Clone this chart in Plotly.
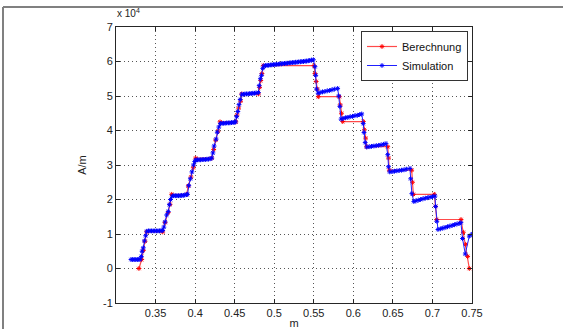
import plotly.graph_objects as go

# Berechnung (red), values in units of 1e4 A/m
calc_x = [0.329, 0.3325, 0.3345, 0.3367, 0.3388, 0.359, 0.362, 0.366, 0.3683, 0.3704, 0.3893,
          0.3914, 0.3948, 0.3977, 0.4007, 0.421, 0.4235, 0.426, 0.429, 0.4315, 0.4515,
          0.453, 0.455, 0.4575, 0.459, 0.480, 0.4815, 0.483, 0.4845, 0.4862, 0.5503,
          0.5515, 0.553, 0.5545, 0.5557, 0.5823, 0.5835, 0.585, 0.5866, 0.6126, 0.614, 0.6155, 0.6169,
          0.6435, 0.6445, 0.6455, 0.6738, 0.6748, 0.6758, 0.7024, 0.704, 0.7054, 0.7361,
          0.739, 0.742, 0.7445, 0.7466]
calc_y = [0.0, 0.26, 0.52, 0.79, 1.06, 1.06, 1.33, 1.62, 1.86, 2.15, 2.15,
          2.39, 2.65, 2.92, 3.2, 3.2, 3.45, 3.72, 3.98, 4.25, 4.25,
          4.45, 4.65, 4.85, 5.06, 5.06, 5.25, 5.45, 5.65, 5.88, 5.88,
          5.65, 5.42, 5.2, 4.98, 4.98, 4.74, 4.5, 4.26, 4.26, 4.02, 3.78, 3.53,
          3.53, 3.2, 2.85, 2.85, 2.5, 2.15, 2.15, 1.8, 1.42, 1.42,
          1.05, 0.7, 0.35, 0.0]

# Simulation (blue)
sim_x = [0.319, 0.321, 0.323, 0.325, 0.327, 0.329, 0.3305, 0.332, 0.333, 0.3345, 0.336, 0.3375, 0.339,
         0.341, 0.343, 0.345, 0.347, 0.349, 0.351, 0.353, 0.355, 0.357, 0.359,
         0.3605, 0.362, 0.364, 0.366, 0.3675, 0.369, 0.371,
         0.373, 0.375, 0.377, 0.379, 0.381, 0.383, 0.385, 0.387, 0.389, 0.3905,
         0.392, 0.394, 0.396, 0.398, 0.3995, 0.401,
         0.403, 0.405, 0.407, 0.409, 0.411, 0.413, 0.415, 0.417, 0.419, 0.421,
         0.4225, 0.424, 0.4265, 0.428, 0.430, 0.432,
         0.434, 0.436, 0.438, 0.440, 0.442, 0.444, 0.446, 0.448, 0.450, 0.451,
         0.4525, 0.454, 0.4555, 0.457, 0.459,
         0.461, 0.463, 0.465, 0.467, 0.469, 0.471, 0.473, 0.475, 0.477, 0.480,
         0.481, 0.4825, 0.484, 0.4855, 0.487,
         0.489, 0.491, 0.493, 0.495, 0.497, 0.499, 0.501, 0.503, 0.505, 0.507, 0.509,
         0.511, 0.513, 0.515, 0.517, 0.519, 0.521, 0.523, 0.525, 0.527, 0.529, 0.531,
         0.533, 0.535, 0.537, 0.539, 0.541, 0.543, 0.545, 0.547, 0.5495,
         0.5515, 0.5525, 0.5535, 0.5555,
         0.558, 0.561, 0.564, 0.567, 0.570, 0.573, 0.576, 0.5802,
         0.5815, 0.583, 0.5845,
         0.587, 0.590, 0.593, 0.596, 0.599, 0.602, 0.605, 0.608, 0.6106,
         0.6125, 0.6135, 0.615, 0.617,
         0.620, 0.623, 0.626, 0.629, 0.632, 0.635, 0.638, 0.6413,
         0.6435, 0.6445, 0.646,
         0.649, 0.652, 0.655, 0.658, 0.661, 0.664, 0.667, 0.6716,
         0.6725, 0.674, 0.6765,
         0.679, 0.682, 0.685, 0.688, 0.691, 0.694, 0.697, 0.700, 0.7032,
         0.704, 0.7055, 0.707,
         0.710, 0.713, 0.716, 0.719, 0.722, 0.725, 0.728, 0.731, 0.734, 0.736,
         0.738, 0.7415, 0.7466, 0.7497]
sim_y = [0.26, 0.26, 0.26, 0.26, 0.26, 0.26, 0.27, 0.35, 0.5, 0.6, 0.8, 0.95, 1.08,
         1.09, 1.09, 1.09, 1.09, 1.09, 1.09, 1.09, 1.09, 1.1, 1.1,
         1.2, 1.35, 1.55, 1.65, 1.85, 2.0, 2.1,
         2.11, 2.11, 2.11, 2.11, 2.11, 2.12, 2.12, 2.13, 2.14, 2.15,
         2.4, 2.6, 2.8, 3.0, 3.1, 3.15,
         3.15, 3.15, 3.15, 3.16, 3.16, 3.16, 3.17, 3.17, 3.18, 3.2,
         3.35, 3.55, 3.75, 3.95, 4.1, 4.2,
         4.21, 4.21, 4.21, 4.22, 4.22, 4.22, 4.23, 4.23, 4.24, 4.25,
         4.4, 4.55, 4.75, 4.9, 5.05,
         5.05, 5.06, 5.06, 5.06, 5.07, 5.07, 5.08, 5.08, 5.09, 5.1,
         5.3, 5.5, 5.6, 5.8, 5.87,
         5.88, 5.89, 5.89, 5.9, 5.9, 5.91, 5.91, 5.92, 5.92, 5.93, 5.93,
         5.94, 5.94, 5.95, 5.95, 5.96, 5.96, 5.97, 5.97, 5.98, 5.98, 5.99,
         5.99, 6.0, 6.0, 6.01, 6.01, 6.02, 6.03, 6.04, 6.05,
         5.85, 5.6, 5.2, 5.08,
         5.1, 5.12, 5.13, 5.15, 5.16, 5.18, 5.2, 5.22,
         5.0, 4.7, 4.33,
         4.35, 4.37, 4.38, 4.4, 4.41, 4.43, 4.44, 4.46, 4.48,
         4.2, 3.94, 3.65, 3.52,
         3.53, 3.54, 3.55, 3.56, 3.57, 3.58, 3.6, 3.62,
         3.3, 2.95, 2.8,
         2.81, 2.82, 2.83, 2.84, 2.85, 2.86, 2.88, 2.9,
         2.6, 2.17, 1.94,
         1.96, 1.98, 2.0, 2.02, 2.04, 2.05, 2.07, 2.08, 2.1,
         1.8, 1.37, 1.13,
         1.15, 1.17, 1.19, 1.21, 1.23, 1.25, 1.27, 1.29, 1.31, 1.33,
         0.87, 0.42, 0.94, 0.99]

x_ticks = [0.35, 0.4, 0.45, 0.5, 0.55, 0.6, 0.65, 0.7, 0.75]
x_tick_labels = ["0.35", "0.4", "0.45", "0.5", "0.55", "0.6", "0.65", "0.7", "0.75"]
y_ticks = [-1, 0, 1, 2, 3, 4, 5, 6, 7]
y_tick_labels = ["-1", "0", "1", "2", "3", "4", "5", "6", "7"]

W, H = 563, 329
L, R, T, B = 116, 91, 27, 26
pw, ph = W - L - R, H - T - B

def px(xp):
    return (xp - L) / pw

def py(yp):
    return (H - B - yp) / ph

fig = go.Figure()
fig.add_trace(go.Scatter(
    x=calc_x, y=calc_y, name="Berechnung", mode="lines+markers",
    line=dict(color="#ff4a4a", width=1.2),
    marker=dict(symbol="asterisk-open", size=4, color="#ff0000",
                line=dict(color="#ff0000", width=1)),
))
fig.add_trace(go.Scatter(
    x=sim_x, y=sim_y, name="Simulation", mode="lines+markers",
    line=dict(color="#2020ff", width=1),
    marker=dict(symbol="asterisk-open", size=4, color="#0000ff",
                line=dict(color="#0000ff", width=1)),
))

font = dict(family="Liberation Sans, Arial, sans-serif", size=11, color="#222222")
axis_common = dict(
    showline=True, linecolor="#262626", linewidth=1, mirror="ticks",
    ticks="inside", ticklen=4, tickcolor="#262626", tickwidth=1,
    showgrid=True, gridcolor="#555555", griddash="1px,3px", gridwidth=1,
    zeroline=False, tickfont=font, automargin=False,
)
fig.update_xaxes(range=[0.3, 0.75], tickvals=x_ticks, ticktext=x_tick_labels,
                 title=dict(text="m", font=font, standoff=4), **axis_common)
fig.update_yaxes(range=[-1, 7], tickvals=y_ticks, ticktext=y_tick_labels,
                 title=dict(text="A/m", font=font, standoff=14), **axis_common)

fig.update_layout(
    width=W, height=H,
    margin=dict(l=L, r=R, t=T, b=B, pad=0),
    paper_bgcolor="white", plot_bgcolor="white",
    font=font,
    showlegend=True,
    legend=dict(x=px(468), y=py(31), xanchor="right", yanchor="top",
                bgcolor="white", bordercolor="#333333", borderwidth=1,
                font=dict(family="Liberation Sans, Arial, sans-serif", size=11, color="#111111"),
                tracegroupgap=0, itemwidth=30),
    annotations=[dict(text="x 10<sup>4</sup>", x=px(115), y=py(21), xref="paper", yref="paper",
                      xanchor="left", yanchor="bottom", showarrow=False, font=dict(
                          family="Liberation Sans, Arial, sans-serif", size=10, color="#222222"))],
    shapes=[
        dict(type="line", xref="paper", yref="paper", x0=px(3), x1=px(563), y0=py(7), y1=py(7),
             line=dict(color="#808080", width=2)),
        dict(type="line", xref="paper", yref="paper", x0=px(3), x1=px(3), y0=py(7), y1=py(329),
             line=dict(color="#808080", width=2)),
    ],
)

fig.write_html("out.html", config={"displayModeBar": False},
               post_script="document.body.style.margin='0';document.body.style.padding='0';")
